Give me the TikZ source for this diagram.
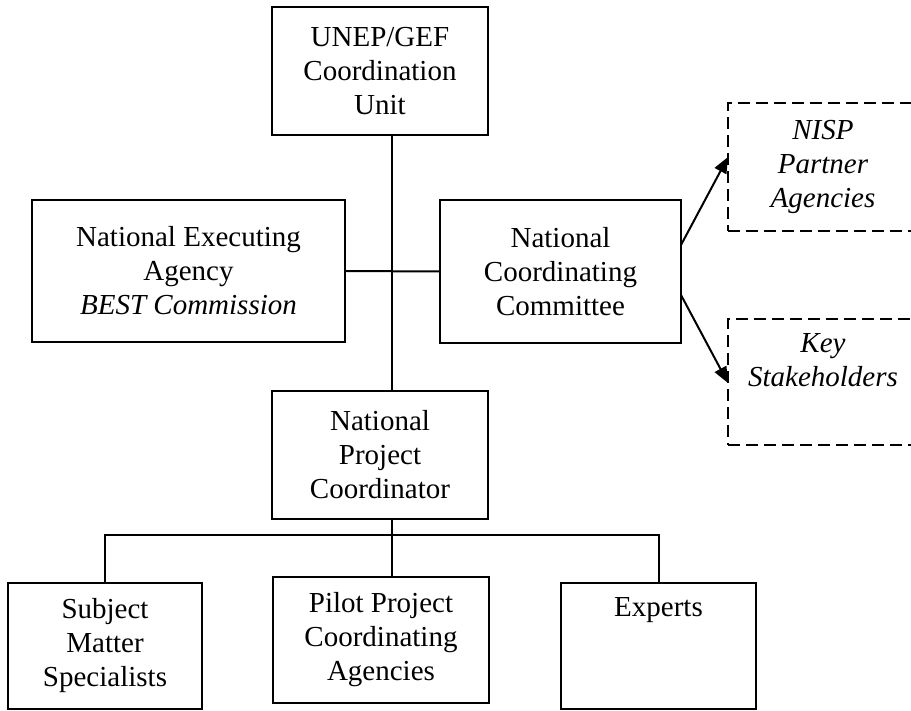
\documentclass[tikz,border=0pt]{standalone}
\usepackage{fontspec}
\setmainfont{Liberation Serif}
\usetikzlibrary{arrows.meta}
\begin{document}
\begin{tikzpicture}[x=1pt,y=-1pt,
  every node/.style={font=\fontsize{29}{34}\selectfont, align=center, inner sep=0pt},
  box/.style={draw, line width=2pt},
  dbox/.style={draw, line width=2pt, dash pattern=on 12pt off 6pt},
  conn/.style={line width=2pt},
  arr/.style={line width=2pt, -{Triangle[length=16pt,width=13pt]}}]
\useasboundingbox (0,0) rectangle (911,711);
\node[box, minimum width=216, minimum height=128] (unep) at (380,71) {UNEP/GEF\\Coordination\\Unit};
\node[box, minimum width=313, minimum height=142] (nea) at (188.5,271) {National Executing\\Agency\\\textit{BEST Commission}};
\node[box, minimum width=241, minimum height=143] (ncc) at (560.5,271.5) {National\\Coordinating\\Committee};
\node[dbox, minimum width=190, minimum height=128] (nisp) at (823,167) {\textit{NISP}\\\textit{Partner}\\\textit{Agencies}};
\node[dbox, minimum width=190, minimum height=126] (key) at (823,382) {\textit{Key}\\\textit{Stakeholders}\\\strut};
\node[box, minimum width=216, minimum height=128] (npc) at (380,455) {National\\Project\\Coordinator};
\node[box, minimum width=194, minimum height=126] (sms) at (105,646) {Subject\\Matter\\Specialists};
\node[box, minimum width=216, minimum height=126] (pilot) at (381,640) {Pilot Project\\Coordinating\\Agencies};
\node[box, minimum width=195, minimum height=126] (exp) at (658.5,646) {Experts\\\strut\\\strut};
\coordinate (spine) at (392,0);
\coordinate (bus) at (392,535);
\coordinate (a1) at (681,245);
\coordinate (a2) at (681,295);
\coordinate (t1) at (728,157);
\coordinate (t2) at (728,383);
\draw[conn] (unep.south -| spine) -- (npc.north -| spine);
\draw[conn] (nea.east) -- (ncc.west);
\draw[conn] (npc.south -| spine) -- (pilot.north -| spine);
\draw[conn] (sms.north) |- (bus) -| (exp.north);
\draw[arr] (a1) -- (t1);
\draw[arr] (a2) -- (t2);
\end{tikzpicture}
\end{document}
